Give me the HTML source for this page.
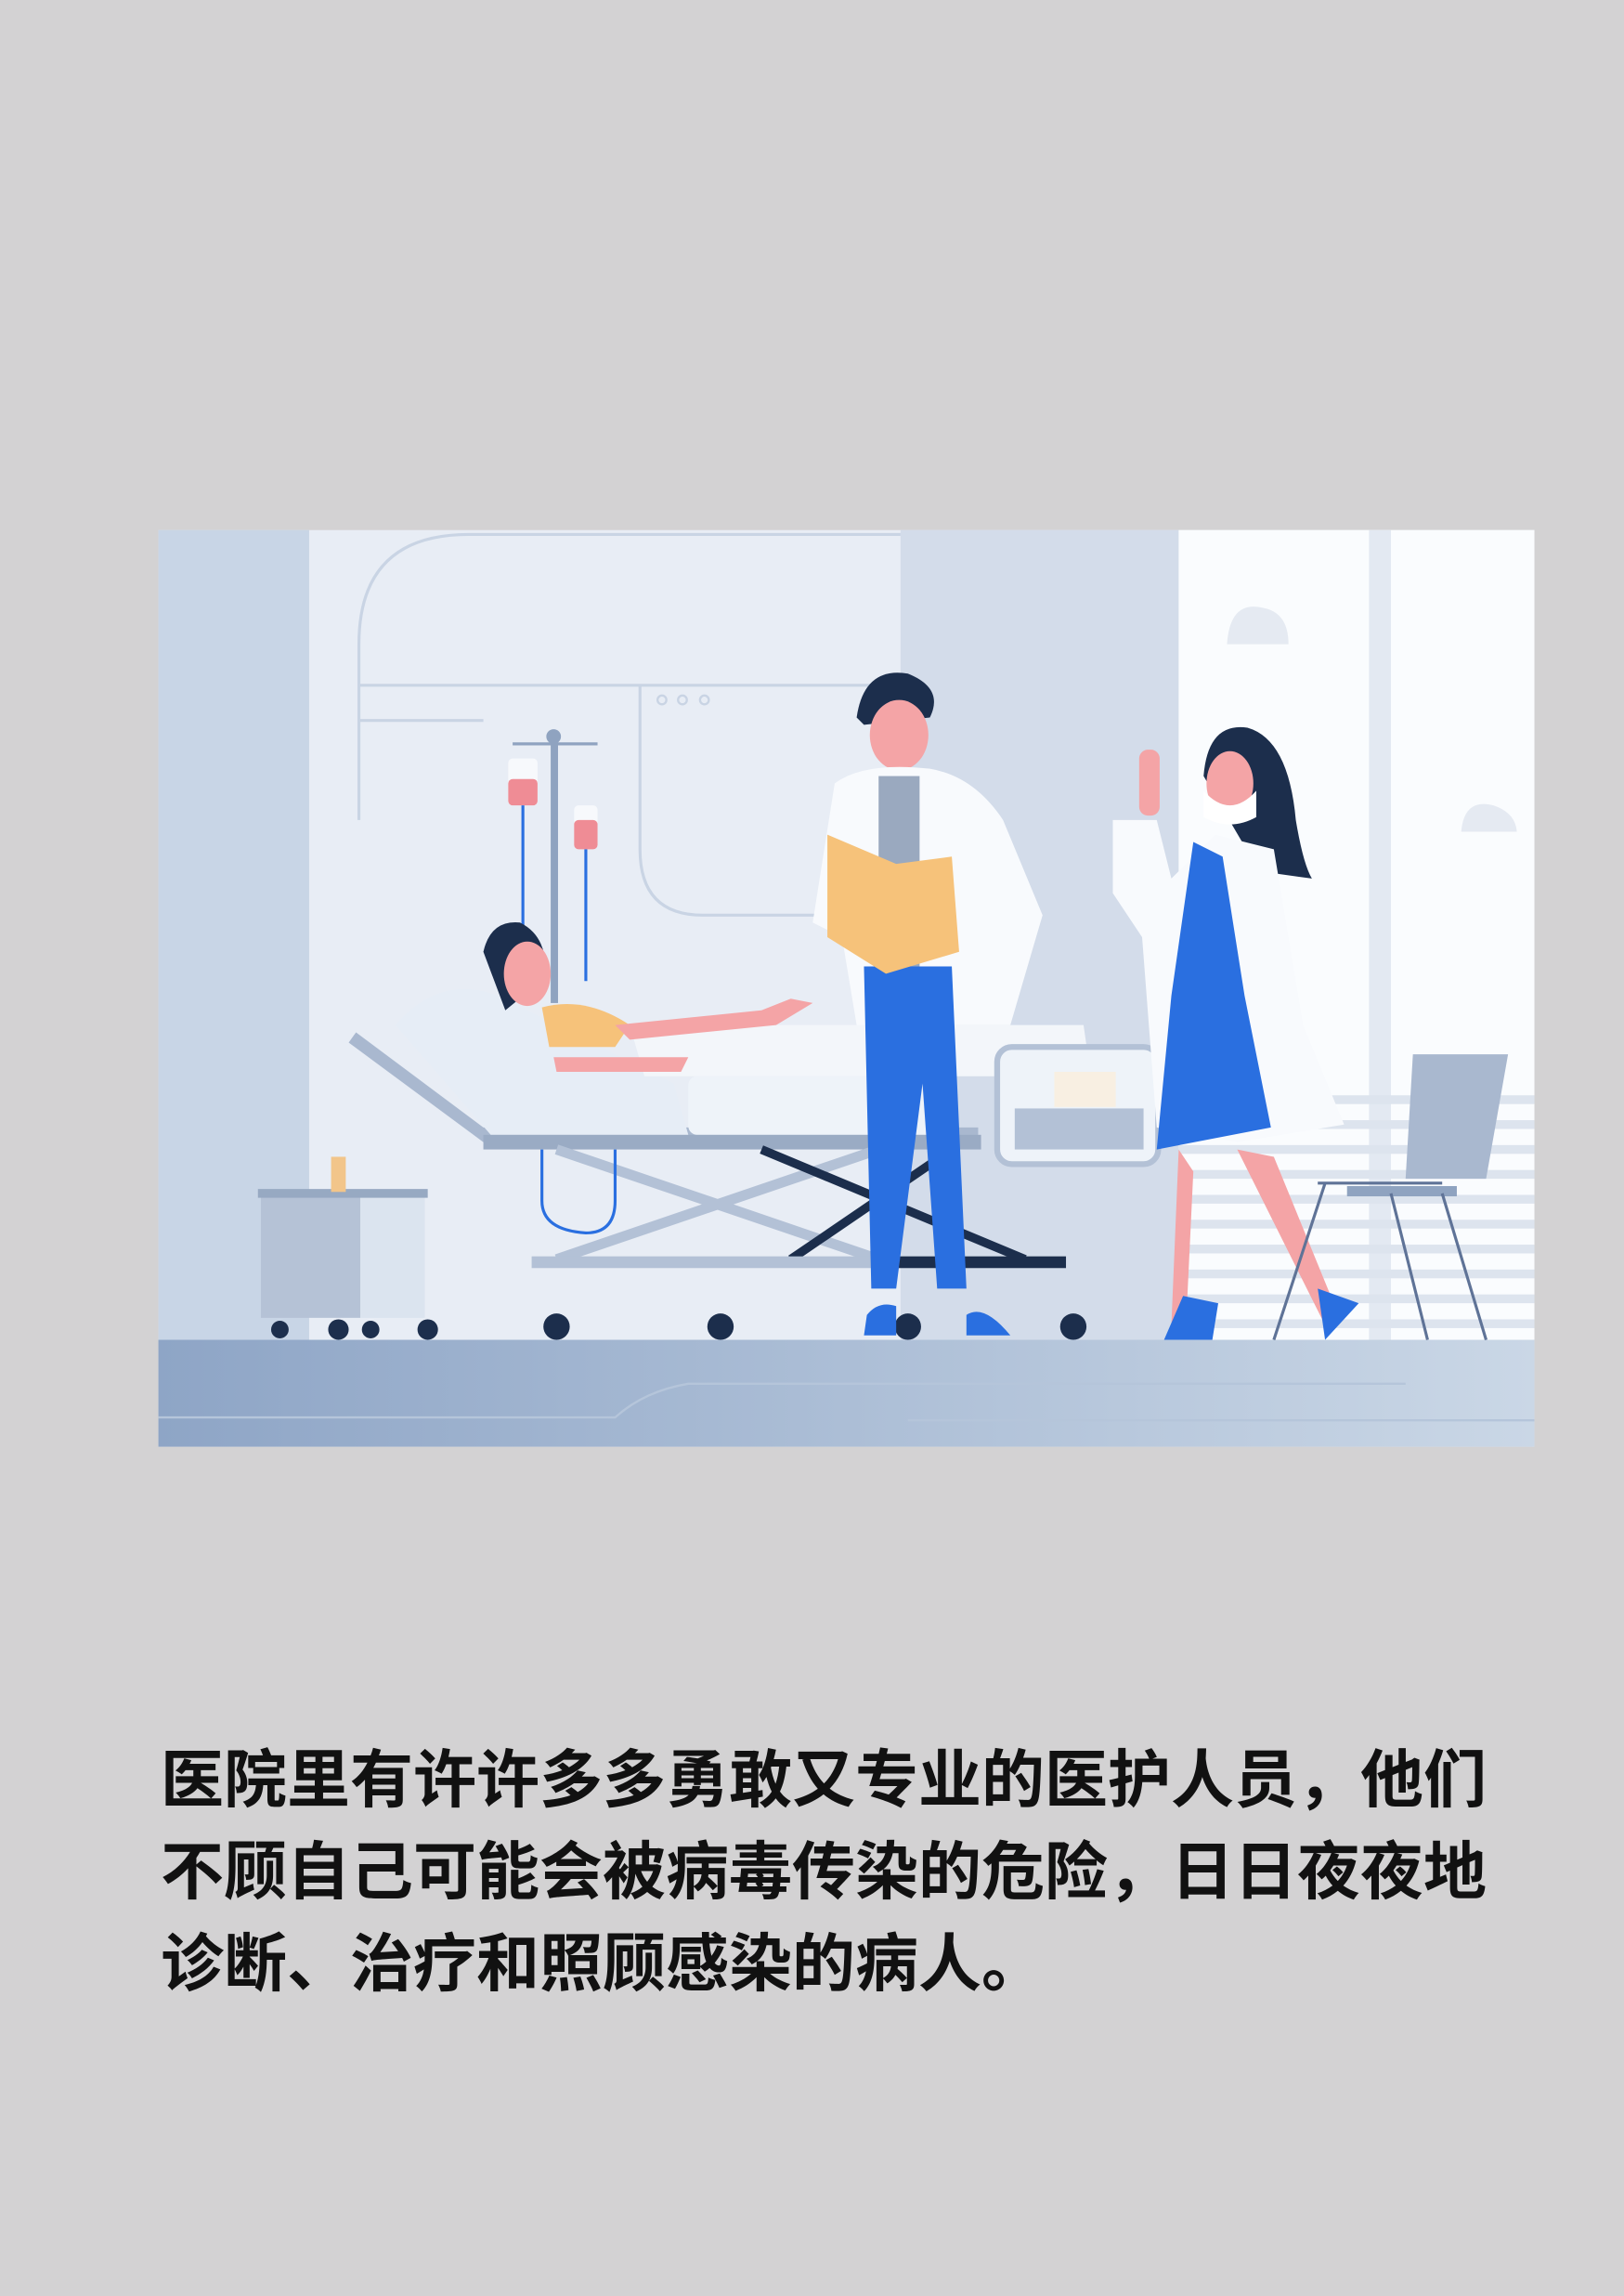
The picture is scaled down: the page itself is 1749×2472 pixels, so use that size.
<!DOCTYPE html>
<html><head><meta charset="utf-8"><style>
html,body{margin:0;padding:0;}
body{width:1749px;height:2472px;background:#d3d2d3;position:relative;overflow:hidden;}
svg{position:absolute;left:0;top:0;}
.t{position:absolute;left:173px;top:1868px;width:1500px;font-family:"Liberation Sans","Noto Sans CJK SC",sans-serif;font-weight:bold;font-size:68px;line-height:99px;color:#111;white-space:nowrap;}
</style></head><body>
<svg width="1749" height="2472" viewBox="0 0 1109 1568">
<defs>
<linearGradient id="fl" x1="0" x2="1"><stop offset="0" stop-color="#8ea5c6"/><stop offset="1" stop-color="#cad7e6"/></linearGradient>
</defs>
<g>
<rect x="108" y="362" width="940" height="626" fill="#e8edf5"/>
<rect x="108" y="362" width="103" height="560" fill="#c8d5e6"/>
<rect x="615" y="362" width="190" height="560" fill="#d3dcea"/>
<rect x="805" y="362" width="243" height="560" fill="#fafcfe"/>
<rect x="935" y="362" width="15" height="560" fill="#e3e9f2"/>
<path d="M245 560 V440 Q245 365 320 365 H615" fill="none" stroke="#c9d4e4" stroke-width="2"/>
<path d="M245 468 H615 M437 468 V580 Q437 625 480 625 H615 M245 492 H330" fill="none" stroke="#c9d4e4" stroke-width="2"/>
<g fill="none" stroke="#c9d4e4" stroke-width="1.5"><circle cx="452" cy="478" r="3"/><circle cx="466" cy="478" r="3"/><circle cx="481" cy="478" r="3"/></g>
<path d="M838 440 Q840 410 862 415 Q880 418 880 440 Z" fill="#e5eaf2"/>
<path d="M998 568 Q1000 545 1020 550 Q1035 555 1036 568 Z" fill="#e5eaf2"/>
<g fill="#dde4ee"><rect x="805" y="748" width="243" height="6"/><rect x="805" y="765" width="243" height="6"/><rect x="805" y="782" width="243" height="6"/><rect x="805" y="799" width="243" height="6"/><rect x="805" y="816" width="243" height="6"/><rect x="805" y="833" width="243" height="6"/><rect x="805" y="850" width="243" height="6"/><rect x="805" y="867" width="243" height="6"/><rect x="805" y="884" width="243" height="6"/><rect x="805" y="901" width="243" height="6"/></g>
<rect x="108" y="915" width="940" height="73" fill="url(#fl)"/>
<path d="M108 968 H420 Q440 950 470 945 H930 L960 945 M620 970 H1048" fill="none" stroke="#b5c5da" stroke-width="1.5"/>
</g>
<g>
<rect x="376" y="500" width="5" height="185" fill="#8fa3c0"/><circle cx="378" cy="503" r="5" fill="#8fa3c0"/>
<path d="M350 508 H408" stroke="#8fa3c0" stroke-width="2"/>
<rect x="347" y="518" width="20" height="32" rx="3" fill="#f7f9fc"/><rect x="347" y="532" width="20" height="18" rx="3" fill="#ef8c95"/>
<rect x="392" y="550" width="16" height="30" rx="3" fill="#f7f9fc"/><rect x="392" y="560" width="16" height="20" rx="3" fill="#ef8c95"/>
<path d="M357 550 V680 M400 580 V670" stroke="#2a6fe0" stroke-width="2"/>
</g>
<g>
<rect x="178" y="816" width="68" height="84" fill="#b5c2d6"/><rect x="246" y="816" width="44" height="84" fill="#dbe4ef"/>
<rect x="176" y="812" width="116" height="6" fill="#97a9c2"/><rect x="226" y="790" width="10" height="24" fill="#f2c58a"/>
<g fill="#1d2f4d"><circle cx="191" cy="908" r="6"/><circle cx="231" cy="908" r="7"/><circle cx="253" cy="908" r="6"/><circle cx="292" cy="908" r="7"/></g>
</g>
<g>
<path d="M243 705 L330 770 H668 V780 H330 L238 712 Z" fill="#a9b8cf"/>
<rect x="330" y="775" width="340" height="10" fill="#9aabc4"/>
<path d="M380 785 L600 860 M600 785 L380 860" stroke="#b3c1d6" stroke-width="7"/>
<path d="M520 785 L700 860 M650 785 L540 860" stroke="#1c2e4c" stroke-width="6"/>
<rect x="363" y="858" width="250" height="8" fill="#b3c1d6"/><rect x="613" y="858" width="115" height="8" fill="#1c2e4c"/>
<g fill="#1c2e4c"><circle cx="380" cy="906" r="9"/><circle cx="492" cy="906" r="9"/><circle cx="620" cy="906" r="9"/><circle cx="733" cy="906" r="9"/></g>
<path d="M270 700 Q300 665 340 680 L460 740 L470 775 H335 Z" fill="#e6edf6"/>
<rect x="470" y="735" width="168" height="40" rx="6" fill="#eef3f9"/>
<path d="M430 700 H740 L745 735 H440 Z" fill="#f3f6fa"/>
<rect x="681" y="715" width="110" height="80" rx="10" fill="#eef3f9" stroke="#b3c1d6" stroke-width="4"/>
<rect x="693" y="757" width="88" height="28" fill="#b3c1d6"/><rect x="720" y="732" width="42" height="24" fill="#f8efe2"/>
<path d="M370 785 V820 Q370 840 400 842 Q420 842 420 820 V785" fill="none" stroke="#2a6fe0" stroke-width="2"/>
</g>
<g>
<path d="M330 650 Q335 628 355 630 Q375 640 372 668 L345 690 Z" fill="#1c2e4c"/>
<ellipse cx="360" cy="665" rx="16" ry="22" fill="#f4a4a6"/>
<path d="M370 688 Q400 680 430 700 L420 715 H375 Z" fill="#f6c27a"/>
<path d="M420 700 L520 690 L540 682 L555 685 L530 700 L430 710 Z" fill="#f4a4a6"/>
<path d="M378 722 H470 L465 732 H380 Z" fill="#f4a4a6"/>
</g>
<g>
<path d="M585 490 Q590 455 620 460 Q645 470 635 490 L590 495 Z" fill="#1c2e4c"/>
<ellipse cx="614" cy="502" rx="20" ry="24" fill="#f4a4a6"/>
<path d="M570 535 Q590 520 635 525 Q665 530 685 560 L712 625 L690 700 H585 L575 640 L555 630 Z" fill="#f8fafd"/>
<rect x="600" y="530" width="28" height="140" fill="#9aa9bf"/>
<path d="M590 660 H650 L660 880 H640 L630 740 L612 880 H595 Z" fill="#2a6fe0"/>
<path d="M565 570 L612 590 L605 665 L565 640 Z M612 590 L650 585 L655 650 L605 665 Z" fill="#f6c27a"/>
<path d="M592 898 Q600 888 612 892 V912 H590 Z M660 898 Q672 890 690 912 H660 Z" fill="#2a6fe0"/>
</g>
<g>
<path d="M822 530 Q825 493 852 497 Q880 505 885 560 Q890 590 896 600 L860 595 Z" fill="#1c2e4c"/>
<ellipse cx="840" cy="535" rx="16" ry="22" fill="#f4a4a6"/>
<path d="M822 540 Q840 560 858 540 V558 Q840 568 822 558 Z" fill="#ffffff"/>
<path d="M760 560 L790 560 L800 600 L830 570 L870 580 L890 700 L918 768 L845 780 L790 770 L780 640 L760 610 Z" fill="#f8fafd"/>
<path d="M815 575 L835 585 L850 680 L868 770 L790 785 L800 680 Z" fill="#2a6fe0"/>
<path d="M805 785 L815 800 L810 905 H800 Z M845 785 L870 790 L915 900 L905 905 Z" fill="#f4a4a6"/>
<path d="M795 915 L808 885 L832 890 L828 915 Z M905 915 L900 880 L928 890 Z" fill="#2a6fe0"/>
<rect x="778" y="512" width="14" height="45" rx="6" fill="#f4a4a6"/>
</g>
<g>
<path d="M965 720 H1030 L1015 805 H960 Z" fill="#a9b8cf"/>
<rect x="920" y="810" width="75" height="7" fill="#8fa3c0"/>
<path d="M900 808 H985 M905 808 L870 915 M985 815 L1015 915 M950 815 L975 915" stroke="#5f7397" stroke-width="2" fill="none"/>
</g>
</svg>
<div class="t">医院里有许许多多勇敢又专业的医护人员，他们<br>不顾自己可能会被病毒传染的危险，日日夜夜地<br>诊断、治疗和照顾感染的病人。</div>
</body></html>
